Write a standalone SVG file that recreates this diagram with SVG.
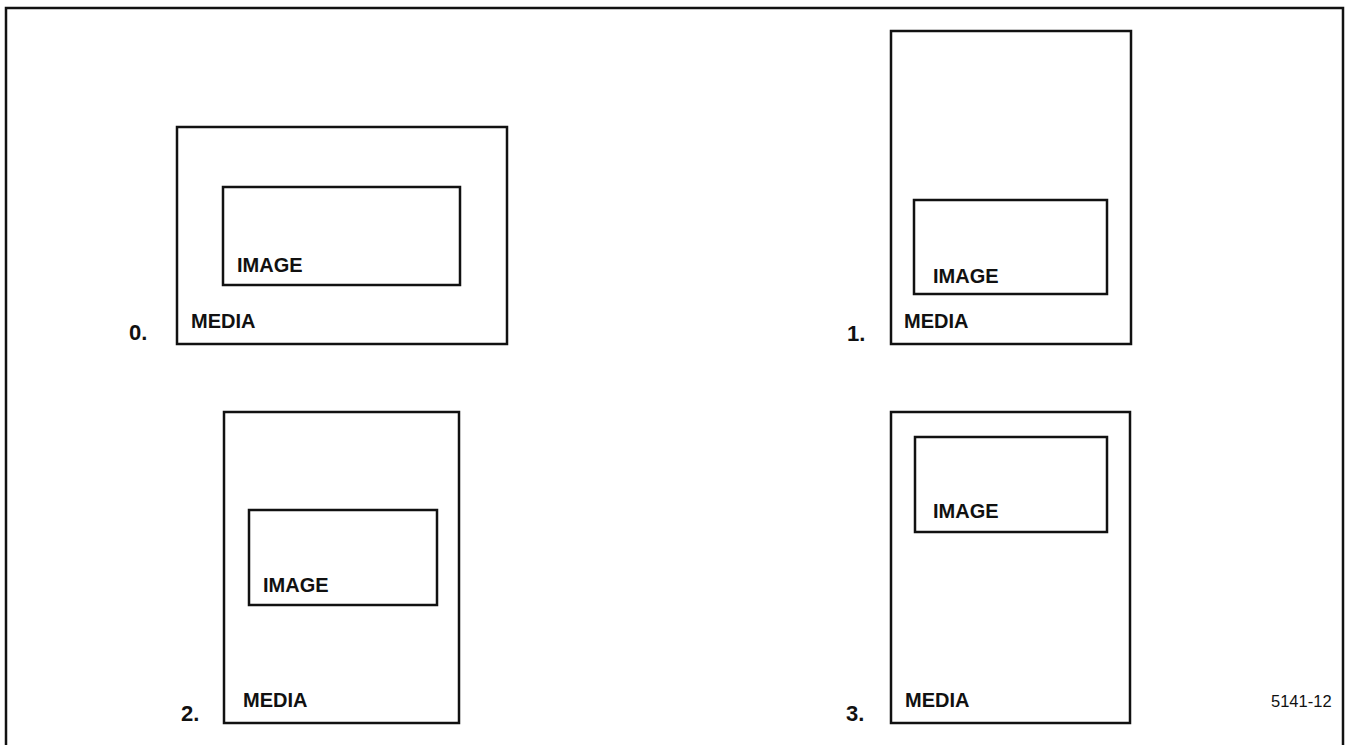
<svg xmlns="http://www.w3.org/2000/svg" width="1348" height="745" viewBox="0 0 1348 745">
<style>
.box{fill:none;stroke:#111;stroke-width:2.5;stroke-linejoin:miter}
.lbl{font-family:"Liberation Sans",Arial,sans-serif;font-weight:bold;font-size:20px;fill:#111}
.num{font-family:"Liberation Sans",Arial,sans-serif;font-weight:bold;font-size:22px;fill:#111}
.code{font-family:"Liberation Sans",Arial,sans-serif;font-size:16.5px;fill:#111}
</style>
<rect width="1348" height="745" fill="#fff"/>
<g id="frame"><polyline class="box" points="6,745 6,8 1343,8 1343,745"/></g>
<g id="layout0">
<rect class="box" x="177" y="127" width="330" height="217"/>
<rect class="box" x="223" y="187" width="237" height="98"/>
<text class="lbl" x="237" y="272">IMAGE</text>
<text class="lbl" x="191" y="328">MEDIA</text>
<text class="num" x="129" y="340">0.</text>
</g>
<g id="layout1">
<rect class="box" x="891" y="31" width="240" height="313"/>
<rect class="box" x="914" y="200" width="193" height="94"/>
<text class="lbl" x="933" y="283">IMAGE</text>
<text class="lbl" x="904" y="328">MEDIA</text>
<text class="num" x="847" y="341">1.</text>
</g>
<g id="layout2">
<rect class="box" x="224" y="412" width="235" height="311"/>
<rect class="box" x="249" y="510" width="188" height="95"/>
<text class="lbl" x="263" y="592">IMAGE</text>
<text class="lbl" x="243" y="707">MEDIA</text>
<text class="num" x="181" y="721">2.</text>
</g>
<g id="layout3">
<rect class="box" x="891" y="412" width="239" height="311"/>
<rect class="box" x="915" y="437" width="192" height="95"/>
<text class="lbl" x="933" y="518">IMAGE</text>
<text class="lbl" x="905" y="707">MEDIA</text>
<text class="num" x="846" y="721">3.</text>
</g>
<text class="code" x="1271" y="707">5141-12</text>
</svg>
